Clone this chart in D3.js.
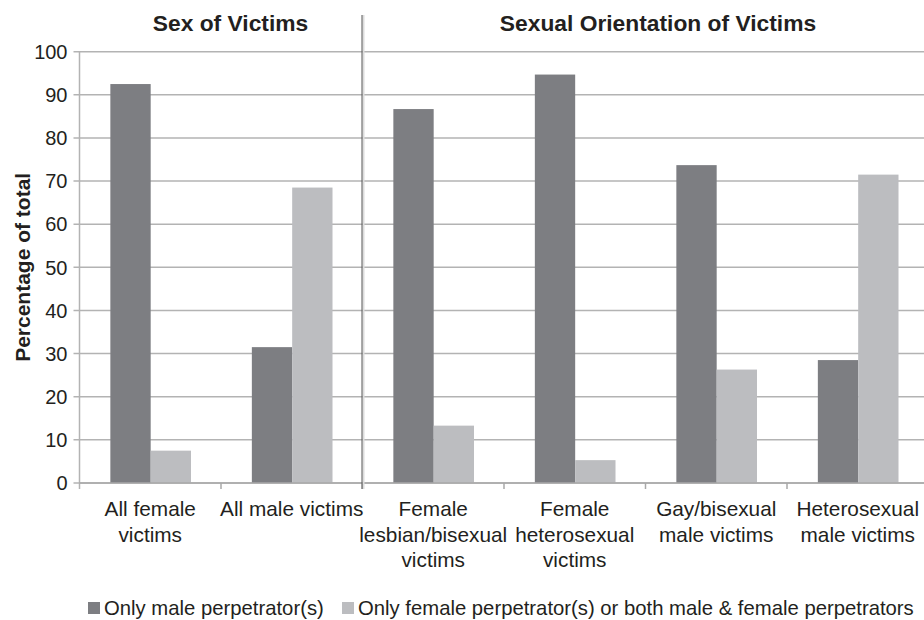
<!DOCTYPE html>
<html>
<head>
<meta charset="utf-8">
<script src="https://cdn.jsdelivr.net/npm/d3@7"></script>
<style>
  body { margin: 0; background: #fff; }
  svg { font-family: "Liberation Sans", Arial, Helvetica, sans-serif; }
</style>
</head>
<body>
<svg id="chart" width="924" height="620"></svg>
<script>
const categories = [
    ["All female", "victims"],
    ["All male victims"],
    ["Female", "lesbian/bisexual", "victims"],
    ["Female", "heterosexual", "victims"],
    ["Gay/bisexual", "male victims"],
    ["Heterosexual", "male victims"],
];
const seriesNames = [
    "Only male perpetrator(s)",
    "Only female perpetrator(s) or both male & female perpetrators",
];
const maleOnly = [92.5, 31.5, 86.7, 94.7, 73.7, 28.5];
const femaleOrBoth = [7.5, 68.5, 13.3, 5.3, 26.3, 71.5];
const yTicks = [0, 10, 20, 30, 40, 50, 60, 70, 80, 90, 100];
const groupTitles = ["Sex of Victims", "Sexual Orientation of Victims"];

const colors = ["#7d7e82", "#bcbdc0"];

const svg = d3.select("#chart");
const margin = { left: 79.5, right: -4.5, top: 51.7, bottom: 137 };
const W = 924, H = 620;

const x0 = d3.scaleBand()
    .domain(d3.range(categories.length))
    .range([margin.left, W - margin.right]);
const bw = x0.bandwidth();
const x1 = d3.scaleBand()
    .domain([0, 1])
    .range([bw * 0.218, bw * 0.788]);
const y = d3.scaleLinear().domain([0, 100]).range([H - margin.bottom, margin.top]);

// gridlines
svg.append("g")
    .selectAll("line")
    .data(yTicks)
    .join("line")
    .attr("x1", margin.left - 6)
    .attr("x2", W)
    .attr("y1", (d) => y(d))
    .attr("y2", (d) => y(d))
    .style("stroke", "#b3b3b3")
    .style("stroke-width", 1.5);

// y tick labels
svg.append("g")
    .selectAll("text")
    .data(yTicks)
    .join("text")
    .attr("x", margin.left - 12)
    .attr("y", (d) => y(d))
    .attr("dy", "0.36em")
    .attr("text-anchor", "end")
    .style("font-size", "20px")
    .style("fill", "#231f20")
    .text((d) => d);

// bars
const rows = categories.map((c, i) => [maleOnly[i], femaleOrBoth[i]]);
svg.append("g")
    .selectAll("g")
    .data(rows)
    .join("g")
    .attr("transform", (d, i) => `translate(${x0(i)},0)`)
    .selectAll("rect")
    .data((d) => d)
    .join("rect")
    .attr("x", (d, j) => x1(j))
    .attr("width", x1.bandwidth())
    .attr("y", (d) => y(d))
    .attr("height", (d) => y(0) - y(d))
    .attr("fill", (d, j) => colors[j]);

// axes lines
svg.append("line")
    .attr("x1", margin.left).attr("x2", margin.left)
    .attr("y1", y(100)).attr("y2", y(0) + 6)
    .style("stroke", "#b3b3b3").style("stroke-width", 1.5);
svg.append("line")
    .attr("x1", margin.left).attr("x2", W)
    .attr("y1", y(0)).attr("y2", y(0))
    .style("stroke", "#a8a8a8").style("stroke-width", 1.5);
svg.append("g")
    .selectAll("line")
    .data(d3.range(1, categories.length))
    .join("line")
    .attr("x1", (d) => x0(d))
    .attr("x2", (d) => x0(d))
    .attr("y1", y(0))
    .attr("y2", y(0) + 6)
    .style("stroke", "#a8a8a8")
    .style("stroke-width", 1.5);

// divider between groups
const divX = x0(2) - 0.5;
svg.append("line")
    .attr("x1", divX + 1.5).attr("x2", divX + 1.5)
    .attr("y1", 15).attr("y2", y(0) + 6)
    .style("stroke", "#dcdcdc").style("stroke-width", 2);
svg.append("line")
    .attr("x1", divX).attr("x2", divX)
    .attr("y1", 15).attr("y2", y(0) + 6)
    .style("stroke", "#555").style("stroke-width", 1);

// x labels
svg.append("g")
    .selectAll("text")
    .data(categories)
    .join("text")
    .attr("x", (d, i) => x0(i) + bw / 2)
    .attr("y", 516)
    .attr("text-anchor", "middle")
    .style("font-size", "20.8px")
    .style("fill", "#231f20")
    .selectAll("tspan")
    .data((d) => d)
    .join("tspan")
    .attr("x", function () { return this.parentNode.getAttribute("x"); })
    .attr("dy", (d, k) => (k === 0 ? 0 : 25.5))
    .text((d) => d);

// group titles
svg.append("text")
    .attr("x", 230.5).attr("y", 31)
    .attr("text-anchor", "middle")
    .style("font-size", "22.8px").style("font-weight", "bold").style("fill", "#231f20")
    .text(groupTitles[0]);
svg.append("text")
    .attr("x", 658).attr("y", 31)
    .attr("text-anchor", "middle")
    .style("font-size", "22.8px").style("font-weight", "bold").style("fill", "#231f20")
    .text(groupTitles[1]);

// y title
svg.append("text")
    .attr("transform", `translate(30,${(y(0) + y(100)) / 2}) rotate(-90)`)
    .attr("text-anchor", "middle")
    .style("font-size", "21px").style("font-weight", "bold").style("fill", "#231f20")
    .text("Percentage of total");

// legend
const legendX = [88, 342];
const lg = svg.append("g")
    .selectAll("g")
    .data(seriesNames)
    .join("g")
    .attr("transform", (d, i) => `translate(${legendX[i]},602)`);
lg.append("rect").attr("width", 12).attr("height", 12).attr("fill", (d, i) => colors[i]);
lg.append("text")
    .attr("x", 16).attr("y", 6).attr("dy", "0.36em")
    .style("font-size", "20.3px").style("fill", "#231f20")
    .text((d) => d);
</script>
</body>
</html>
